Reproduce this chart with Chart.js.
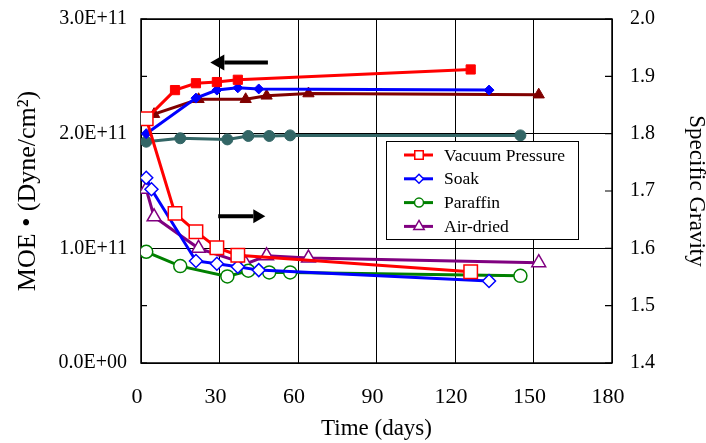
<!DOCTYPE html>
<html>
<head>
<meta charset="utf-8">
<script src="https://cdn.jsdelivr.net/npm/chart.js@4.4.1/dist/chart.umd.min.js"></script>
<style>
  body { margin: 0; background: #fff; }
  #wrap { width: 706px; height: 443px; }
</style>
</head>
<body>
<div id="wrap"><canvas id="myChart"></canvas></div>
<script>
// sampling days (time after treatment)
const vpDays = [2, 13, 21, 29, 37, 126];
const soakDays = [2, 21, 29, 37, 45, 133];
const soakSgDays = [2, 4, 21, 29, 37, 45, 133];
const paraffinDays = [2, 15, 33, 41, 49, 57, 145];
const airMoeDays = [5, 22, 40, 48, 64, 152];
const airSgDays = [2, 5, 22, 40, 48, 64, 152];

// MOE in dyne/cm2 (left axis)
const vpMOE = [2.13e11, 2.38e11, 2.44e11, 2.45e11, 2.47e11, 2.56e11];
const soakMOE = [2.00e11, 2.31e11, 2.38e11, 2.40e11, 2.39e11, 2.38e11];
const paraffinMOE = [1.93e11, 1.96e11, 1.95e11, 1.98e11, 1.98e11, 1.985e11, 1.985e11];
const airMOE = [2.17e11, 2.30e11, 2.30e11, 2.33e11, 2.35e11, 2.34e11];

// specific gravity (right axis)
const vpSG = [1.826, 1.661, 1.629, 1.601, 1.588, 1.559];
const soakSG = [1.723, 1.703, 1.578, 1.573, 1.568, 1.562, 1.543];
const paraffinSG = [1.594, 1.569, 1.551, 1.561, 1.558, 1.558, 1.552];
const airSG = [1.703, 1.655, 1.600, 1.573, 1.587, 1.583, 1.575];

const treatments = ['Vacuum Pressure', 'Soak', 'Paraffin', 'Air-dried'];
const timeTicks = [0, 30, 60, 90, 120, 150, 180];
const moeTicks = [0, 0.5e11, 1e11, 1.5e11, 2e11, 2.5e11, 3e11];
const sgTicks = [1.4, 1.5, 1.6, 1.7, 1.8, 1.9, 2.0];

Chart.defaults.font.family = '"Liberation Serif", "Times New Roman", serif';
Chart.defaults.color = '#000';

function pts(days, vals) {
    return days.map((d, i) => ({x: d, y: vals[i]}));
}

function series(label, days, vals, axis, color, style, radius, open, legendRadius) {
    return {
        label: label,
        data: pts(days, vals),
        yAxisID: axis,
        borderColor: color,
        borderWidth: 3,
        pointStyle: style,
        pointRadius: radius,
        pointHoverRadius: radius,
        pointBorderColor: color,
        pointBackgroundColor: open ? '#fff' : color,
        pointBorderWidth: open ? 1.5 : 1,
        tension: 0,
        inLegend: open,
        legendRadius: legendRadius
    };
}

// 0.0E+00 style labels, only on whole 1E+11 steps
function expLabel(v) {
    const r = v / 1e11;
    if (Math.abs(r - Math.round(r)) > 1e-6) return '';
    const parts = v.toExponential(1).split('e');
    const sign = parts[1][0];
    const digits = parts[1].slice(1).padStart(2, '0');
    return parts[0] + 'E' + sign + digits;
}

function marker(ctx, style, x, y, r) {
    ctx.beginPath();
    if (style === 'rect') {
        const s = r * Math.SQRT1_2;
        ctx.rect(x - s, y - s, 2 * s, 2 * s);
    } else if (style === 'rectRot') {
        ctx.moveTo(x - r, y); ctx.lineTo(x, y - r); ctx.lineTo(x + r, y); ctx.lineTo(x, y + r);
        ctx.closePath();
    } else if (style === 'triangle') {
        ctx.moveTo(x, y - r);
        ctx.lineTo(x + 0.866 * r, y + 0.5 * r);
        ctx.lineTo(x - 0.866 * r, y + 0.5 * r);
        ctx.closePath();
    } else {
        ctx.arc(x, y, r, 0, Math.PI * 2);
    }
    ctx.fill();
    ctx.stroke();
}

// fixed axis sizes, no extra room for overhanging labels
function fitVertical(width) {
    return s => { s.width = width; s.paddingTop = 0; s.paddingBottom = 0; };
}

// plot frame plus the small inward tick marks on both value axes
const frame = {
    id: 'frame',
    beforeDatasetsDraw(chart) {
        const {ctx, chartArea: a, scales} = chart;
        ctx.save();
        ctx.strokeStyle = '#000';
        ctx.lineWidth = 1.5;
        ctx.strokeRect(a.left, a.top, a.right - a.left, a.bottom - a.top);
        ctx.lineWidth = 1.2;
        ctx.beginPath();
        moeTicks.forEach(v => {
            const y = scales.y.getPixelForValue(v);
            ctx.moveTo(a.left, y); ctx.lineTo(a.left + 6, y);
        });
        sgTicks.forEach(v => {
            const y = scales.y1.getPixelForValue(v);
            ctx.moveTo(a.right - 7, y); ctx.lineTo(a.right, y);
        });
        ctx.stroke();
        ctx.restore();
    }
};

// arrows telling which axis each group of curves belongs to
const axisArrows = {
    id: 'axisArrows',
    afterDatasetsDraw(chart) {
        const {ctx, scales: {x, y}} = chart;
        const arrow = (x0, x1, py, head, half) => {
            const dir = Math.sign(x1 - x0);
            ctx.beginPath();
            ctx.moveTo(x0, py); ctx.lineTo(x1 - dir * head, py);
            ctx.stroke();
            ctx.beginPath();
            ctx.moveTo(x1, py);
            ctx.lineTo(x1 - dir * head, py - half);
            ctx.lineTo(x1 - dir * head, py + half);
            ctx.closePath();
            ctx.fill();
        };
        ctx.save();
        ctx.strokeStyle = '#000';
        ctx.fillStyle = '#000';
        ctx.lineWidth = 4;
        arrow(x.getPixelForValue(48.5), x.getPixelForValue(26.5), y.getPixelForValue(2.62e11), 14, 8);
        arrow(x.getPixelForValue(29.5), x.getPixelForValue(47.5), y.getPixelForValue(1.28e11), 12, 7);
        ctx.restore();
    }
};

const boxLegend = {
    id: 'boxLegend',
    afterDatasetsDraw(chart) {
        const {ctx, chartArea: a} = chart;
        const bx = a.left + 245, by = a.top + 122, bw = 192, bh = 98;
        ctx.save();
        ctx.fillStyle = '#fff';
        ctx.fillRect(bx, by, bw, bh);
        ctx.strokeStyle = '#000';
        ctx.lineWidth = 1;
        ctx.strokeRect(bx + 0.5, by + 0.5, bw, bh);
        ctx.font = '17.5px "Liberation Serif", serif';
        ctx.textBaseline = 'middle';
        chart.data.datasets.filter(d => d.inLegend).forEach((d, i) => {
            const cy = by + 14 + i * 23.8;
            ctx.strokeStyle = d.borderColor;
            ctx.lineWidth = 3;
            ctx.beginPath();
            ctx.moveTo(bx + 18, cy); ctx.lineTo(bx + 47, cy);
            ctx.stroke();
            ctx.fillStyle = '#fff';
            ctx.lineWidth = 1.5;
            marker(ctx, d.pointStyle, bx + 33, cy, d.legendRadius);
            ctx.fillStyle = '#000';
            ctx.fillText(d.label, bx + 58, cy + 1);
        });
        ctx.restore();
    }
};

const ctx = document.getElementById('myChart').getContext('2d');

new Chart(ctx, {
    type: 'line',
    data: {
        datasets: [
            series(treatments[0], vpDays, vpSG, 'y1', '#FF0000', 'rect', 9.5, true, 6),
            series(treatments[1], soakSgDays, soakSG, 'y1', '#0000FF', 'rectRot', 6.5, true, 4.5),
            series(treatments[2], paraffinDays, paraffinSG, 'y1', '#008000', 'circle', 6.5, true, 4.5),
            series(treatments[3], airSgDays, airSG, 'y1', '#800080', 'triangle', 8, true, 6),
            series(treatments[0], vpDays, vpMOE, 'y', '#FF0000', 'rect', 6.5, false),
            series(treatments[1], soakDays, soakMOE, 'y', '#0000FF', 'rectRot', 5, false),
            series(treatments[2], paraffinDays, paraffinMOE, 'y', '#336666', 'circle', 5.5, false),
            series(treatments[3], airMoeDays, airMOE, 'y', '#800000', 'triangle', 6.5, false)
        ]
    },
    options: {
        responsive: true,
        maintainAspectRatio: false,
        animation: false,
        layout: { autoPadding: false, padding: { top: 19, left: 0, right: 0, bottom: 0 } },
        plugins: {
            legend: { display: false },
            tooltip: { enabled: false }
        },
        scales: {
            x: {
                type: 'linear',
                min: 0,
                max: 180,
                afterBuildTicks: s => { s.ticks = timeTicks.map(v => ({value: v})); },
                afterFit: s => { s.height = 80; s.paddingLeft = 0; s.paddingRight = 0; },
                ticks: { font: { size: 22 }, padding: 21, labelOffset: -4 },
                grid: { color: '#000', lineWidth: 1, drawTicks: false },
                border: { display: false },
                title: { display: true, text: 'Time (days)', font: { size: 23, lineHeight: 1 }, padding: { bottom: 3 } }
            },
            y: {
                position: 'left',
                min: 0,
                max: 3e11,
                afterBuildTicks: s => { s.ticks = moeTicks.map(v => ({value: v})); },
                afterFit: fitVertical(141),
                ticks: { font: { size: 20 }, padding: 14, callback: v => expLabel(v) },
                grid: {
                    drawTicks: false,
                    lineWidth: 1,
                    color: c => expLabel(c.tick.value) ? '#000' : 'rgba(0,0,0,0)'
                },
                border: { display: false },
                title: { display: true, text: 'MOE \u2022 (Dyne/cm\u00B2)', font: { size: 26, lineHeight: 1 }, padding: { top: 15 } }
            },
            y1: {
                position: 'right',
                min: 1.4,
                max: 2.0,
                afterBuildTicks: s => { s.ticks = sgTicks.map(v => ({value: v})); },
                afterFit: fitVertical(94),
                ticks: { font: { size: 20 }, padding: 18, callback: v => v.toFixed(1) },
                grid: { display: false, drawTicks: false },
                border: { display: false },
                title: { display: true, text: 'Specific Gravity', font: { size: 23, lineHeight: 1 }, padding: { top: -2 } }
            }
        }
    },
    plugins: [frame, axisArrows, boxLegend]
});
</script>
</body>
</html>
